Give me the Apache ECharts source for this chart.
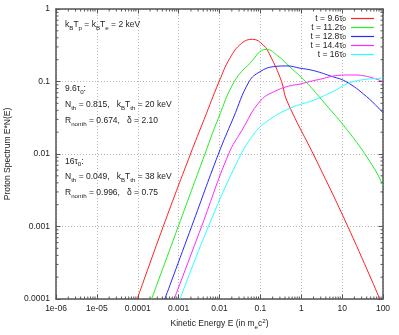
<!DOCTYPE html>
<html><head><meta charset="utf-8">
<script src="https://cdn.jsdelivr.net/npm/echarts@6/dist/echarts.min.js"></script>
<style>html,body{margin:0;padding:0;background:#fff}#c{width:399px;height:335px}</style>
</head><body><div id="c"></div>
<script>
// ---- tick labels ----
const xTickLabels = ['1e-06','1e-05','0.0001','0.001','0.01','0.1','1','10','100'];
const yTickLabels = ['0.0001','0.001','0.01','0.1','1'];

// ---- series ----
const seriesNames = ['9.6', '11.2', '12.8', '14.4', '16'];
const colors = ['#ff2020', '#22ee22', '#2828ff', '#ff28ff', '#28ffff'];

const redE = [9.7e-5, 4.2e-4, 1.95e-3, 4.2e-3, 9.8e-3, 0.0179, 0.0347, 0.0644, 0.117, 0.171, 0.33, 0.437, 2.31, 13.8, 83.5];
const redV = [1e-4, 1e-3, 1e-2, 0.03, 0.1, 0.209, 0.336, 0.382, 0.319, 0.232, 0.1, 0.0556, 0.0083, 0.001, 1e-4];

const greenE = [2.18e-4, 9.8e-4, 4.4e-3, 9.35e-3, 0.0231, 0.0553, 0.14, 0.268, 0.526, 1.27, 3.19, 15.4, 57.3, 100];
const greenV = [1e-4, 1e-3, 0.01, 0.031, 0.1, 0.178, 0.278, 0.225, 0.159, 0.1, 0.0556, 0.0193, 0.00668, 0.0037];

const blueE = [4.6e-4, 2.08e-3, 9.4e-3, 0.0216, 0.0532, 0.097, 0.206, 0.45, 0.92, 2.03, 6.0, 12.3, 39.5, 100];
const blueV = [1e-4, 1e-3, 0.01, 0.031, 0.1, 0.136, 0.16, 0.164, 0.153, 0.141, 0.116, 0.1, 0.062, 0.037];

const magentaE = [7.8e-4, 3.64e-3, 0.0167, 0.035, 0.1, 0.26, 0.526, 0.925, 2.03, 12.8, 21.5, 100];
const magentaV = [1e-4, 1e-3, 0.01, 0.021, 0.054, 0.076, 0.087, 0.092, 0.103, 0.123, 0.123, 0.0995];

const cyanE = [1.08e-3, 5.36e-3, 0.0286, 0.0667, 0.142, 0.526, 2.1, 6.0, 19, 100];
const cyanV = [1e-4, 1e-3, 0.0083, 0.0183, 0.0279, 0.0427, 0.0556, 0.073, 0.1, 0.111];

const allE = [redE, greenE, blueE, magentaE, cyanE];
const allV = [redV, greenV, blueV, magentaV, cyanV];

const X_MIN = 1e-6, X_MAX = 100, Y_MIN = 1e-4, Y_MAX = 1;
const FONT = 'Liberation Sans, Arial, sans-serif';
const AX = '#555';
const TXT = '#222';

// minor tick positions (axis decoration, 2..9 per decade)
const minorX = [];
for (let k = -6; k < 2; k++) for (let m = 2; m < 10; m++) minorX.push([m * Math.pow(10, k), Y_MIN]);
const minorY = [];
for (let k = -4; k < 0; k++) for (let m = 2; m < 10; m++) minorY.push([X_MIN, m * Math.pow(10, k)]);

const chart = echarts.init(document.getElementById('c'), null, {renderer: 'canvas'});

const legendNames = seriesNames.map(s => 't = ' + s + 'τ0');

const lineSeries = allE.map((E, i) => ({
  name: legendNames[i],
  type: 'line',
  data: E.map((e, j) => [e, allV[i][j]]),
  showSymbol: false,
  symbol: 'none',
  smooth: 0.45,
  lineStyle: {color: colors[i], width: 1},
  itemStyle: {color: colors[i]},
  clip: true,
  z: 3
}));

function tickStyle() { return {stroke: AX, lineWidth: 1}; }

const minorXSeries = {
  type: 'custom', silent: true, data: minorX, clip: false, z: 4,
  renderItem: (params, api) => {
    const x = api.value(0);
    const b = api.coord([x, Y_MIN]);
    const t = api.coord([x, Y_MAX]);
    return {type: 'group', children: [
      {type: 'line', shape: {x1: b[0], y1: b[1], x2: b[0], y2: b[1] - 2.5}, style: tickStyle()},
      {type: 'line', shape: {x1: t[0], y1: t[1], x2: t[0], y2: t[1] + 2.5}, style: tickStyle()}
    ]};
  }
};
const minorYSeries = {
  type: 'custom', silent: true, data: minorY, clip: false, z: 4,
  renderItem: (params, api) => {
    const y = api.value(1);
    const l = api.coord([X_MIN, y]);
    const r = api.coord([X_MAX, y]);
    return {type: 'group', children: [
      {type: 'line', shape: {x1: l[0], y1: l[1], x2: l[0] + 2.5, y2: l[1]}, style: tickStyle()},
      {type: 'line', shape: {x1: r[0], y1: r[1], x2: r[0] - 2.5, y2: r[1]}, style: tickStyle()}
    ]};
  }
};

function baseAxis(extra) {
  return Object.assign({
    type: 'log', logBase: 10, interval: 1,
    axisLine: {show: true, lineStyle: {color: AX, width: 1.5}},
    axisTick: {show: true, inside: true, length: 4.5, lineStyle: {color: AX, width: 1}},
    splitLine: {show: false},
    axisLabel: {show: false}
  }, extra);
}

const FS = 8.5, SFS = 6.2;
const richText = {
  n: {fontSize: FS, fontFamily: FONT, color: TXT, lineHeight: 12},
  s: {fontSize: SFS, fontFamily: FONT, color: TXT, lineHeight: 7, verticalAlign: 'bottom'},
  p: {fontSize: SFS, fontFamily: FONT, color: TXT, lineHeight: 7, verticalAlign: 'top'}
};
function note(txt, x, yc) {
  return {text: txt, left: x, top: yc - 6, padding: 0, itemGap: 0, z: 10,
    textStyle: {fontSize: FS, fontWeight: 'normal', fontFamily: FONT, color: TXT, rich: richText}};
}

const option = {
  animation: false,
  backgroundColor: '#fff',
  grid: {left: 56, right: 16, top: 9, bottom: 36, containLabel: false, outerBoundsMode: 'none', show: false},
  title: [
    note('{n|k}{s|B}{n|T}{s|p}{n| = k}{s|B}{n|T}{s|e}{n| = 2 keV}', 65, 25),
    note('{n|9.6τ}{s|0}{n|:}', 65, 89),
    note('{n|N}{s|th}{n| = 0.815,   k}{s|B}{n|T}{s|th}{n| = 20 keV}', 65, 105),
    note('{n|R}{s|nonth}{n| = 0.674,   δ = 2.10}', 65, 121),
    note('{n|16τ}{s|0}{n|:}', 65, 161.5),
    note('{n|N}{s|th}{n| = 0.049,   k}{s|B}{n|T}{s|th}{n| = 38 keV}', 65, 177),
    note('{n|R}{s|nonth}{n| = 0.996,   δ = 0.75}', 65, 193)
  ],
  xAxis: [
    baseAxis({
      min: X_MIN, max: X_MAX, position: 'bottom',
      axisLabel: {show: true, margin: 5, fontSize: 8.5, color: TXT, fontFamily: FONT,
        formatter: v => xTickLabels[Math.round(Math.log10(v)) + 6]},
      splitLine: {show: true, lineStyle: {color: '#b8b8b8', width: 1, type: [1, 2]}},
      name: '{n|Kinetic Energy E (in m}{s|e}{n|c}{p|2}{n|)}',
      nameLocation: 'middle', nameGap: 17,
      nameTextStyle: {fontSize: FS, color: TXT, fontFamily: FONT, rich: richText}
    }),
    baseAxis({min: X_MIN, max: X_MAX, position: 'top'})
  ],
  yAxis: [
    baseAxis({
      min: Y_MIN, max: Y_MAX, position: 'left',
      axisLabel: {show: true, margin: 6, fontSize: 8.5, color: TXT, fontFamily: FONT,
        formatter: v => yTickLabels[Math.round(Math.log10(v)) + 4]},
      splitLine: {show: true, lineStyle: {color: '#b8b8b8', width: 1, type: [1, 2]}},
      name: 'Proton Spectrum E*N(E)', nameLocation: 'middle', nameGap: 44, nameRotate: 90,
      nameTextStyle: {fontSize: FS, color: TXT, fontFamily: FONT}
    }),
    baseAxis({min: Y_MIN, max: Y_MAX, position: 'right'})
  ],
  legend: {
    data: legendNames, orient: 'vertical', right: 25, top: 14, align: 'right',
    icon: 'rect', itemWidth: 23, itemHeight: 1.2, itemGap: 0, padding: 0, selectedMode: false,
    formatter: name => '{n|' + name.slice(0, -1) + '}{s|0}',
    textStyle: {fontSize: FS, color: TXT, fontFamily: FONT, rich: {
      n: {fontSize: FS, color: TXT, fontFamily: FONT, lineHeight: 7.7},
      s: {fontSize: SFS, color: TXT, fontFamily: FONT, lineHeight: 2, verticalAlign: 'bottom'}
    }}
  },
  series: lineSeries.concat([minorXSeries, minorYSeries])
};
chart.setOption(option);
</script>
</body></html>
